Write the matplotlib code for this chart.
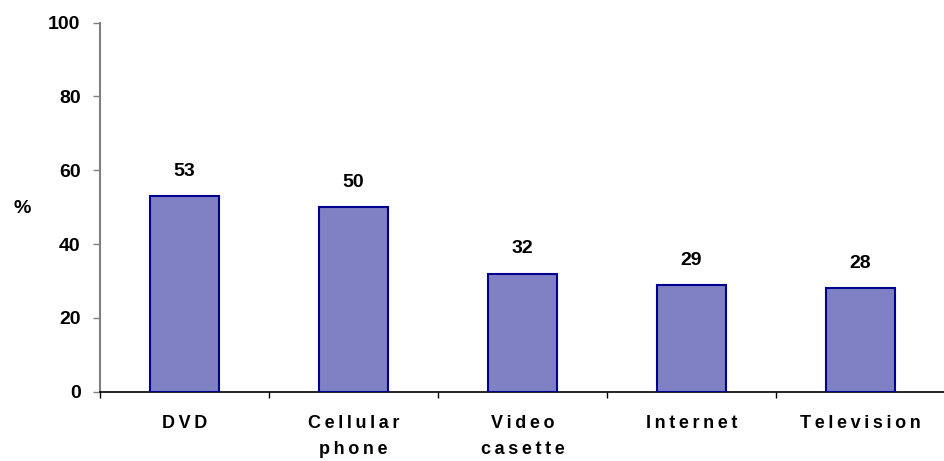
import matplotlib
matplotlib.use("Agg")
import matplotlib.pyplot as plt

categories = ["DVD", "Cellular\nphone", "Video\ncasette", "Internet", "Television"]
values = [53, 50, 32, 29, 28]
yticks = [0, 20, 40, 60, 80, 100]

plt.rcParams['font.family'] = ['Liberation Sans', 'DejaVu Sans']


def spaced(s):
    return "\n".join("\u2009".join(line) for line in s.split("\n"))


fig = plt.figure(figsize=(9.45, 4.61), dpi=100)
ax = fig.add_axes([100/945, 69.3/461, 845/945, 369/461])

x = list(range(len(categories)))
ax.bar(x, values, width=0.41, color='#8080C4', edgecolor='#000090', linewidth=1.5, zorder=3)

for xi, v in zip(x, values):
    ax.annotate(f"{v}", (xi, v), xytext=(0, 14.5), textcoords='offset points',
                ha='center', va='baseline', fontsize=14, fontweight='bold')

ax.set_xlim(-0.5, len(categories) - 0.5)
ax.set_ylim(0, 100)
ax.set_yticks(yticks)
ax.set_yticklabels([str(t) for t in yticks], fontsize=14, fontweight='bold')
ax.set_xticks([i - 0.5 for i in range(len(categories))])
ax.set_xticklabels([])
ax.set_xticks(x, minor=True)
ax.set_xticklabels([spaced(c) for c in categories], minor=True, fontsize=13,
                   fontweight='bold', linespacing=1.75)
ax.tick_params(axis='x', which='minor', length=0, pad=16.5)
ax.tick_params(axis='x', which='major', length=4.5, width=1, color='black')
ax.tick_params(axis='y', length=5, width=1, color='#808080', pad=9)

for s in ['top', 'right']:
    ax.spines[s].set_visible(False)
ax.spines['left'].set_color('#808080')
ax.spines['left'].set_linewidth(1.5)
ax.spines['bottom'].set_color('black')
ax.spines['bottom'].set_linewidth(1.2)

fig.text(22/945, 1 - 208/461, "%", fontsize=14, fontweight='bold', ha='center', va='center')

fig.savefig("out.png", dpi=100)
